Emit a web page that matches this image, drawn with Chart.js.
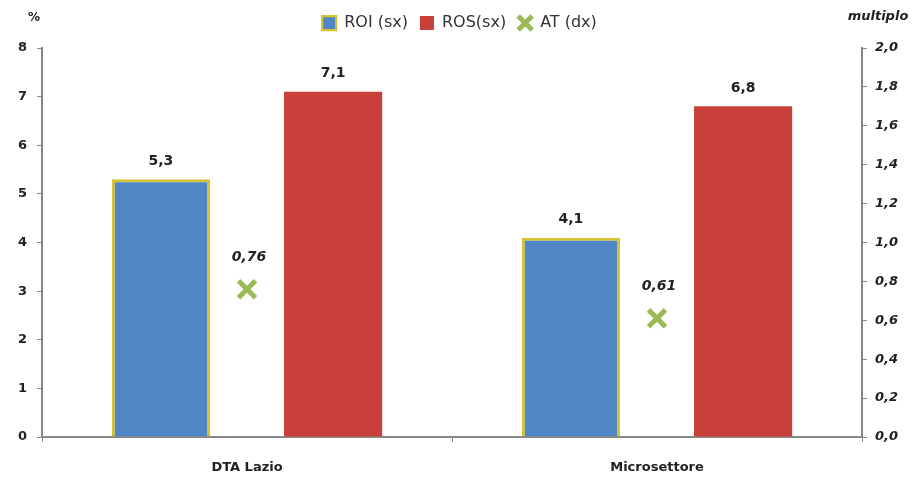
<!DOCTYPE html>
<html>
<head>
<meta charset="utf-8">
<script src="https://cdn.jsdelivr.net/npm/chart.js@4"></script>
<style>
  html, body { margin: 0; padding: 0; background: #fff; }
  #wrap { width: 919px; height: 478px; position: relative; }
</style>
</head>
<body>
<div id="wrap"><canvas id="chart"></canvas></div>
<script>
// Data
const categories = ["DTA Lazio", "Microsettore"];
const roiValues = [5.3, 4.1];
const rosValues = [7.1, 6.8];
const atValues = [0.76, 0.61];
const seriesNames = ["ROI (sx)", "ROS(sx)", "AT (dx)"];
const leftTitle = "%";
const rightTitle = "multiplo";

const FONT = "'DejaVu Sans', Verdana, sans-serif";
const fmt = (v, d) => v.toFixed(d).replace(".", ",");

// value labels above bars and markers + axis titles
const labelPlugin = {
    id: "labels",
    afterInit(chart) {
        // a bit more room under the legend
        const fit = chart.legend.fit;
        chart.legend.fit = function () {
            fit.call(this);
            this.height += 7;
        };
    },
    afterDatasetsDraw(chart) {
        const ctx = chart.ctx;
        ctx.save();
        ctx.textAlign = "center";
        ctx.textBaseline = "middle";
        ctx.fillStyle = "#222";
        chart.data.datasets.forEach((ds, i) => {
            const meta = chart.getDatasetMeta(i);
            meta.data.forEach((el, j) => {
                if (ds.type === "line") {
                    ctx.font = "italic bold 14px " + FONT;
                    ctx.fillText(fmt(ds.data[j], 2), el.x + 2, el.y - 32);
                } else {
                    ctx.font = "bold 14px " + FONT;
                    ctx.fillText(fmt(ds.data[j], 1), el.x, el.y - 18);
                }
            });
        });
        ctx.font = "bold 12px " + FONT;
        ctx.fillText(leftTitle, 34, 18);
        ctx.font = "italic bold 13px " + FONT;
        ctx.fillText(rightTitle, 878, 17);
        ctx.restore();
    }
};

new Chart(document.getElementById("chart"), {
    type: "bar",
    data: {
        labels: categories,
        datasets: [{
            label: seriesNames[0],
            data: roiValues,
            backgroundColor: "#4f86c6",
            borderColor: "#d6c232",
            borderWidth: { top: 3, left: 3, right: 3, bottom: 0 },
            pointStyle: "rect",
            yAxisID: "y"
        }, {
            label: seriesNames[1],
            data: rosValues,
            backgroundColor: "#c9403a",
            borderWidth: 0,
            pointStyle: "rect",
            yAxisID: "y"
        }, {
            type: "line",
            label: seriesNames[2],
            data: atValues,
            yAxisID: "y1",
            showLine: false,
            pointStyle: "crossRot",
            pointRadius: 12,
            pointBorderWidth: 5,
            borderColor: "#9bbb59",
            backgroundColor: "#9bbb59"
        }]
    },
    options: {
        responsive: true,
        maintainAspectRatio: false,
        animation: false,
        layout: { padding: { top: 3, left: 0, right: 0, bottom: 0 } },
        datasets: {
            bar: { categoryPercentage: 0.84, barPercentage: 0.57 }
        },
        scales: {
            x: {
                grid: { display: true, drawOnChartArea: false, color: "#888", tickLength: 5, offset: true },
                border: { color: "#888", width: 2 },
                ticks: { color: "#222", font: { family: FONT, weight: "bold", size: 13 }, padding: 18 },
                afterFit: (s) => { s.height = 41; }
            },
            y: {
                position: "left",
                min: 0, max: 8,
                ticks: { stepSize: 1, color: "#222", font: { family: FONT, weight: "bold", size: 13 }, padding: 10 },
                grid: { drawOnChartArea: false, color: "#888", tickLength: 5 },
                border: { color: "#888", width: 2 },
                afterFit: (s) => { s.width = 42; }
            },
            y1: {
                position: "right",
                min: 0, max: 2,
                ticks: {
                    stepSize: 0.2, color: "#222", padding: 8,
                    font: { family: FONT, weight: "bold", style: "italic", size: 13 },
                    callback: (v) => fmt(v, 1)
                },
                grid: { drawOnChartArea: false, color: "#888", tickLength: 5 },
                border: { color: "#888", width: 2 },
                afterFit: (s) => { s.width = 57; }
            }
        },
        plugins: {
            legend: {
                position: "top",
                labels: {
                    usePointStyle: true,
                    boxWidth: 14,
                    boxHeight: 14,
                    padding: 12,
                    color: "#333",
                    font: { family: FONT, size: 16 },
                    sort: (a, b) => a.datasetIndex - b.datasetIndex
                }
            },
            tooltip: { enabled: false }
        }
    },
    plugins: [labelPlugin]
});
</script>
</body>
</html>
